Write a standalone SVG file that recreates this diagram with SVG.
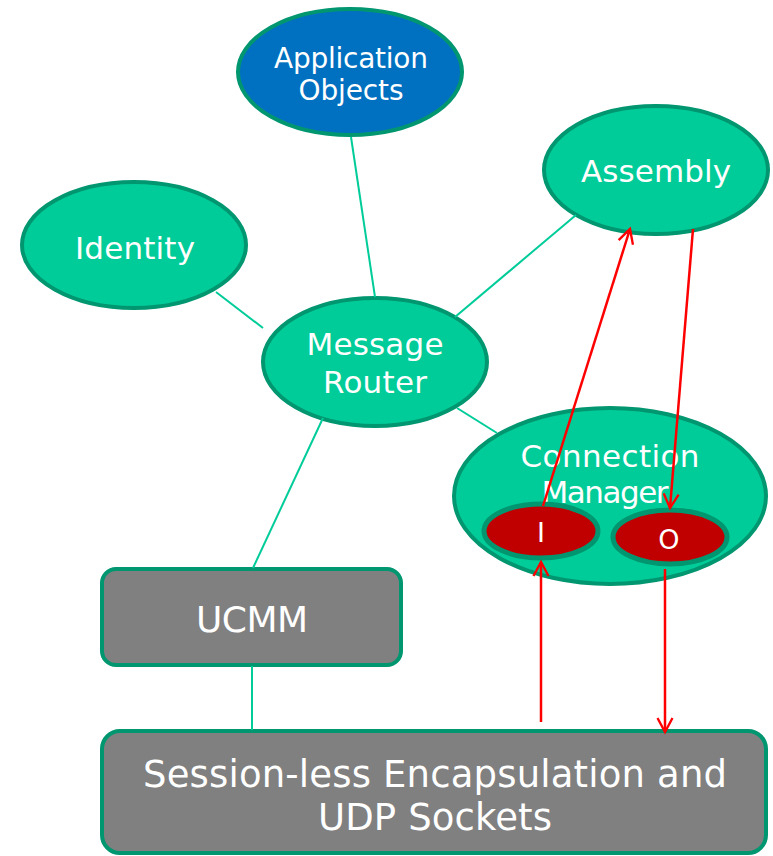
<svg xmlns="http://www.w3.org/2000/svg" width="773" height="856" viewBox="0 0 773 856">
<style>
.node{fill:#00CC99;stroke:#009670;stroke-width:4}
.app{fill:#0070C0}
.io{fill:#C00000;stroke:#009670;stroke-width:5}
.box{fill:#808080;stroke:#009670;stroke-width:4}
.lbl{fill:#FFFFFF;font-family:"DejaVu Sans","Liberation Sans",sans-serif;text-anchor:middle}
.link{stroke:#00CC99;stroke-width:2;fill:none}
.flow{stroke:#FF0000;stroke-width:2.5;fill:none;marker-end:url(#arr)}
</style>
<defs>
<marker id="arr" markerUnits="userSpaceOnUse" markerWidth="30" markerHeight="30" viewBox="-16 -15 32 30" refX="0" refY="0" orient="auto">
<path d="M-15,-8 L0,0 L-15,8" fill="none" stroke="#FF0000" stroke-width="2.5"/>
</marker>
</defs>
<g id="app-objects">
<ellipse class="node app" cx="350" cy="72" rx="112" ry="63"/>
<text class="lbl" x="351" y="68" font-size="28" textLength="154">Application</text>
<text class="lbl" x="351" y="100" font-size="28" textLength="105">Objects</text>
</g>
<g id="assembly">
<ellipse class="node" cx="656" cy="170" rx="112" ry="64"/>
<text class="lbl" x="656" y="182" font-size="31" textLength="150">Assembly</text>
</g>
<g id="identity">
<ellipse class="node" cx="134" cy="245" rx="112" ry="63"/>
<text class="lbl" x="135" y="259" font-size="31" textLength="120">Identity</text>
</g>
<g id="message-router">
<ellipse class="node" cx="375" cy="362" rx="112" ry="64"/>
<text class="lbl" x="375" y="355" font-size="31" textLength="137">Message</text>
<text class="lbl" x="375" y="393" font-size="31" textLength="104">Router</text>
</g>
<g id="connection-manager">
<ellipse class="node" cx="610" cy="496" rx="156" ry="88"/>
<text class="lbl" x="610" y="467" font-size="31" textLength="179">Connection</text>
<text class="lbl" x="605" y="503" font-size="31" textLength="127">Manager</text>
</g>
<g id="input">
<ellipse class="io" cx="541" cy="531" rx="57" ry="27"/>
<text class="lbl" x="541" y="542" font-size="27">I</text>
</g>
<g id="output">
<ellipse class="io" cx="670" cy="537" rx="57" ry="27"/>
<text class="lbl" x="669" y="549" font-size="27">O</text>
</g>
<g id="ucmm">
<rect class="box" x="102" y="569" width="299" height="96" rx="14"/>
<text class="lbl" x="252" y="632" font-size="36" textLength="112">UCMM</text>
</g>
<g id="session-less">
<rect class="box" x="102" y="731" width="664" height="122" rx="18"/>
<text class="lbl" x="435" y="787" font-size="37" textLength="584">Session-less Encapsulation and</text>
<text class="lbl" x="435" y="830" font-size="37" textLength="234">UDP Sockets</text>
</g>
<g id="connectors">
<line class="link" x1="351" y1="137" x2="375" y2="297"/>
<line class="link" x1="216" y1="292" x2="263" y2="328"/>
<line class="link" x1="576" y1="215" x2="455" y2="317"/>
<line class="link" x1="457" y1="408" x2="497" y2="433"/>
<line class="link" x1="323" y1="418" x2="253" y2="568"/>
<line class="link" x1="252" y1="666" x2="252" y2="730"/>
<line class="flow" x1="543" y1="506" x2="630" y2="229"/>
<line class="flow" x1="693" y1="229" x2="670" y2="508"/>
<line class="flow" x1="541" y1="722" x2="541" y2="562"/>
<line class="flow" x1="665" y1="569" x2="665" y2="732"/>
</g>
</svg>
